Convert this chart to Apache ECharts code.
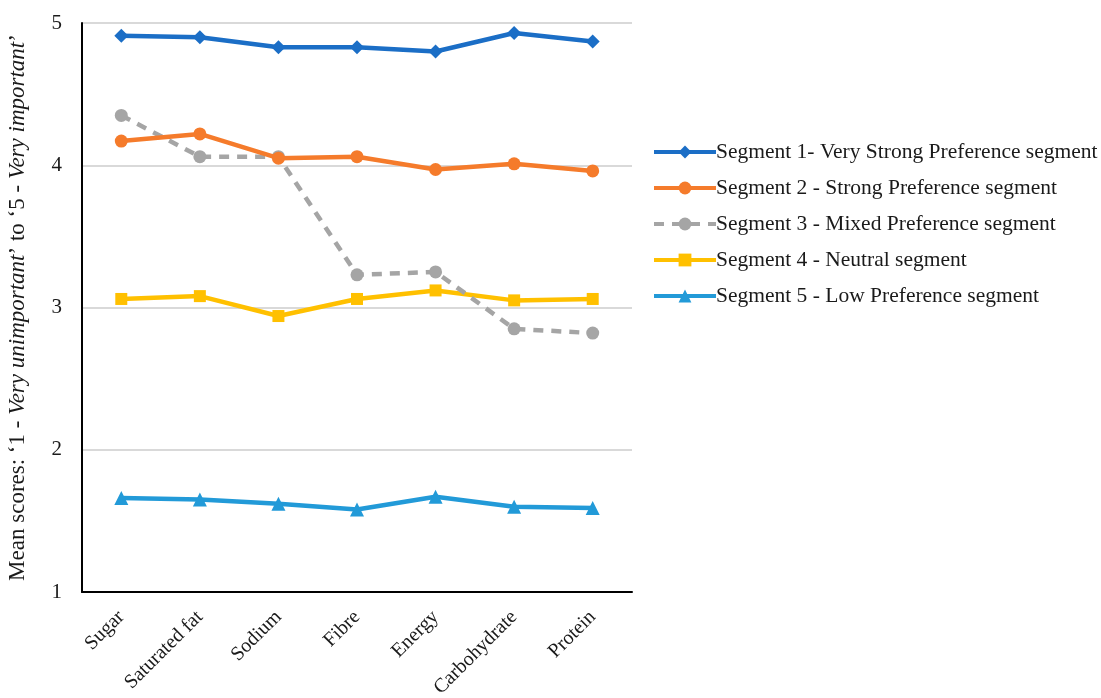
<!DOCTYPE html>
<html><head><meta charset="utf-8">
<script src="https://cdn.jsdelivr.net/npm/echarts@6/dist/echarts.min.js"></script>
<style>html,body{margin:0;padding:0;background:#fff}#c{width:1101px;height:698px}</style>
</head><body><div id="c"></div>
<script>
const categories = ['Sugar','Saturated fat','Sodium','Fibre','Energy','Carbohydrate','Protein'];
const seriesNames = [
  'Segment 1- Very Strong Preference segment',
  'Segment 2 - Strong Preference segment',
  'Segment 3 - Mixed Preference segment',
  'Segment 4 - Neutral segment',
  'Segment 5 - Low Preference segment'
];
const seg1 = [4.91, 4.90, 4.83, 4.83, 4.80, 4.93, 4.87];
const seg2 = [4.17, 4.22, 4.05, 4.06, 3.97, 4.01, 3.96];
const seg3 = [4.35, 4.06, 4.06, 3.23, 3.25, 2.85, 2.82];
const seg4 = [3.06, 3.08, 2.94, 3.06, 3.12, 3.05, 3.06];
const seg5 = [1.66, 1.65, 1.62, 1.58, 1.67, 1.60, 1.59];
const yTicks = {min: 1, max: 5, interval: 1};

const colors = ['#1B6EC6', '#F57B2B', '#A5A5A5', '#FFC000', '#229AD8'];
const symbols = ['diamond', 'circle', 'circle', 'rect', 'triangle'];
const sizes = [14, 13, 13, 12, 14];
const data = [seg1, seg2, seg3, seg4, seg5];
const serif = '"Liberation Serif", "DejaVu Serif", serif';

const chart = echarts.init(document.getElementById('c'));
chart.setOption({
  animation: false,
  color: colors,
  grid: {left: 82, right: 469, top: 23, bottom: 106, containLabel: false, outerBoundsMode: 'none'},
  legend: {
    orient: 'vertical', left: 647, top: 136,
    itemWidth: 62, itemHeight: 16, itemGap: 14,
    textStyle: {fontFamily: serif, fontSize: 21.5, color: '#1a1a1a', padding: [0,0,0,-5]},
    data: seriesNames.map((n, i) => ({name: n, lineStyle: {width: 4, type: i === 2 ? [10, 8] : 'solid'}}))
  },
  xAxis: {
    type: 'category', data: categories, boundaryGap: true,
    axisLine: {lineStyle: {color: '#000', width: 2}},
    axisTick: {show: false},
    axisLabel: {rotate: 45, fontFamily: serif, fontSize: 20, color: '#1a1a1a', margin: 22}
  },
  yAxis: {
    type: 'value', min: yTicks.min, max: yTicks.max, interval: yTicks.interval,
    axisLine: {show: true, lineStyle: {color: '#000', width: 2}},
    axisTick: {show: false},
    splitLine: {lineStyle: {color: '#d9d9d9', width: 2}},
    axisLabel: {fontFamily: serif, fontSize: 21, color: '#1a1a1a', margin: 20},
    name: '{n|Mean scores: \u20181 - }{i|Very unimportant}{n|\u2019 to \u20185 - }{i|Very important}{n|\u2019}',
    nameLocation: 'middle', nameGap: 53, nameRotate: 90,
    nameTextStyle: {
      rich: {
        n: {fontFamily: serif, fontSize: 23, color: '#1a1a1a'},
        i: {fontFamily: serif, fontSize: 23, color: '#1a1a1a', fontStyle: 'italic'}
      }
    }
  },
  series: data.map((d, i) => ({
    name: seriesNames[i], type: 'line', data: d,
    symbol: symbols[i], symbolSize: sizes[i],
    lineStyle: {width: 4.5, type: i === 2 ? [10, 8] : 'solid', color: colors[i]},
    itemStyle: {color: colors[i]},
    z: 10 - i
  }))
});
</script></body></html>
